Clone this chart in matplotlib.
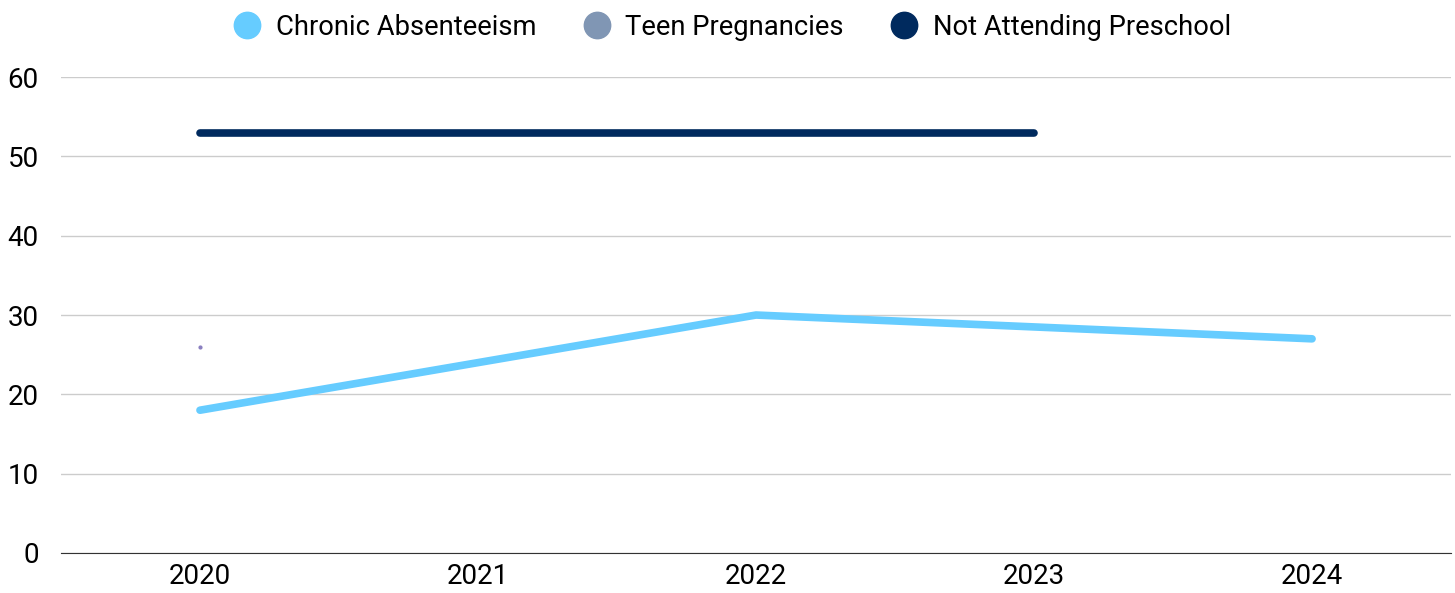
import numpy as np
from matplotlib import pyplot as plt

plt.rcParams['font.family'] = ['Roboto', 'DejaVu Sans']

years = ["2020", "2021", "2022", "2023", "2024"]
chronic_absenteeism = [18, 24, 30, 28.5, 27]
teen_pregnancies = [26, np.nan, np.nan, np.nan, np.nan]
not_attending_preschool = [53, 53, 53, 53, np.nan]

colors = ["#66ccff", "#8096b4", "#002a5e"]
labels = ["Chronic Absenteeism", "Teen Pregnancies", "Not Attending Preschool"]

fig = plt.figure(figsize=(14.55, 5.93), dpi=100)
ax = fig.add_axes([0.0419, 0.0675, 0.9554, 0.8025])

x = np.arange(len(years))
ax.plot(x, chronic_absenteeism, color=colors[0], lw=5.5, solid_capstyle="round", solid_joinstyle="round")
ax.plot(x, teen_pregnancies, color=colors[1], lw=5, marker="o", ms=2, mec="#8a7fc0", mfc="#8a7fc0")
ax.plot(x, not_attending_preschool, color=colors[2], lw=5.5, solid_capstyle="round")

ax.set_xlim(-0.5, len(years) - 0.5)
ax.set_ylim(0, 60)
ax.set_yticks(range(0, 61, 10))
ax.set_xticks(x)
ax.set_xticklabels(years)
ax.grid(axis="y", color="#cccccc", lw=1)
ax.set_axisbelow(True)
for s in ["top", "right", "left"]:
    ax.spines[s].set_visible(False)
ax.spines["bottom"].set_color("#333333")
ax.tick_params(axis="both", length=0, labelsize=20, colors="#000000", pad=7)
ax.tick_params(axis="y", pad=16)

handles = [plt.Line2D([], [], ls="", marker="o", ms=19, color=c) for c in colors]
fig.legend(handles, labels, loc="upper center", bbox_to_anchor=(0.4985, 1.018), ncol=3, frameon=False,
           fontsize=19.7, handletextpad=0.05, columnspacing=1.2)

fig.savefig("out.png", dpi=100)
